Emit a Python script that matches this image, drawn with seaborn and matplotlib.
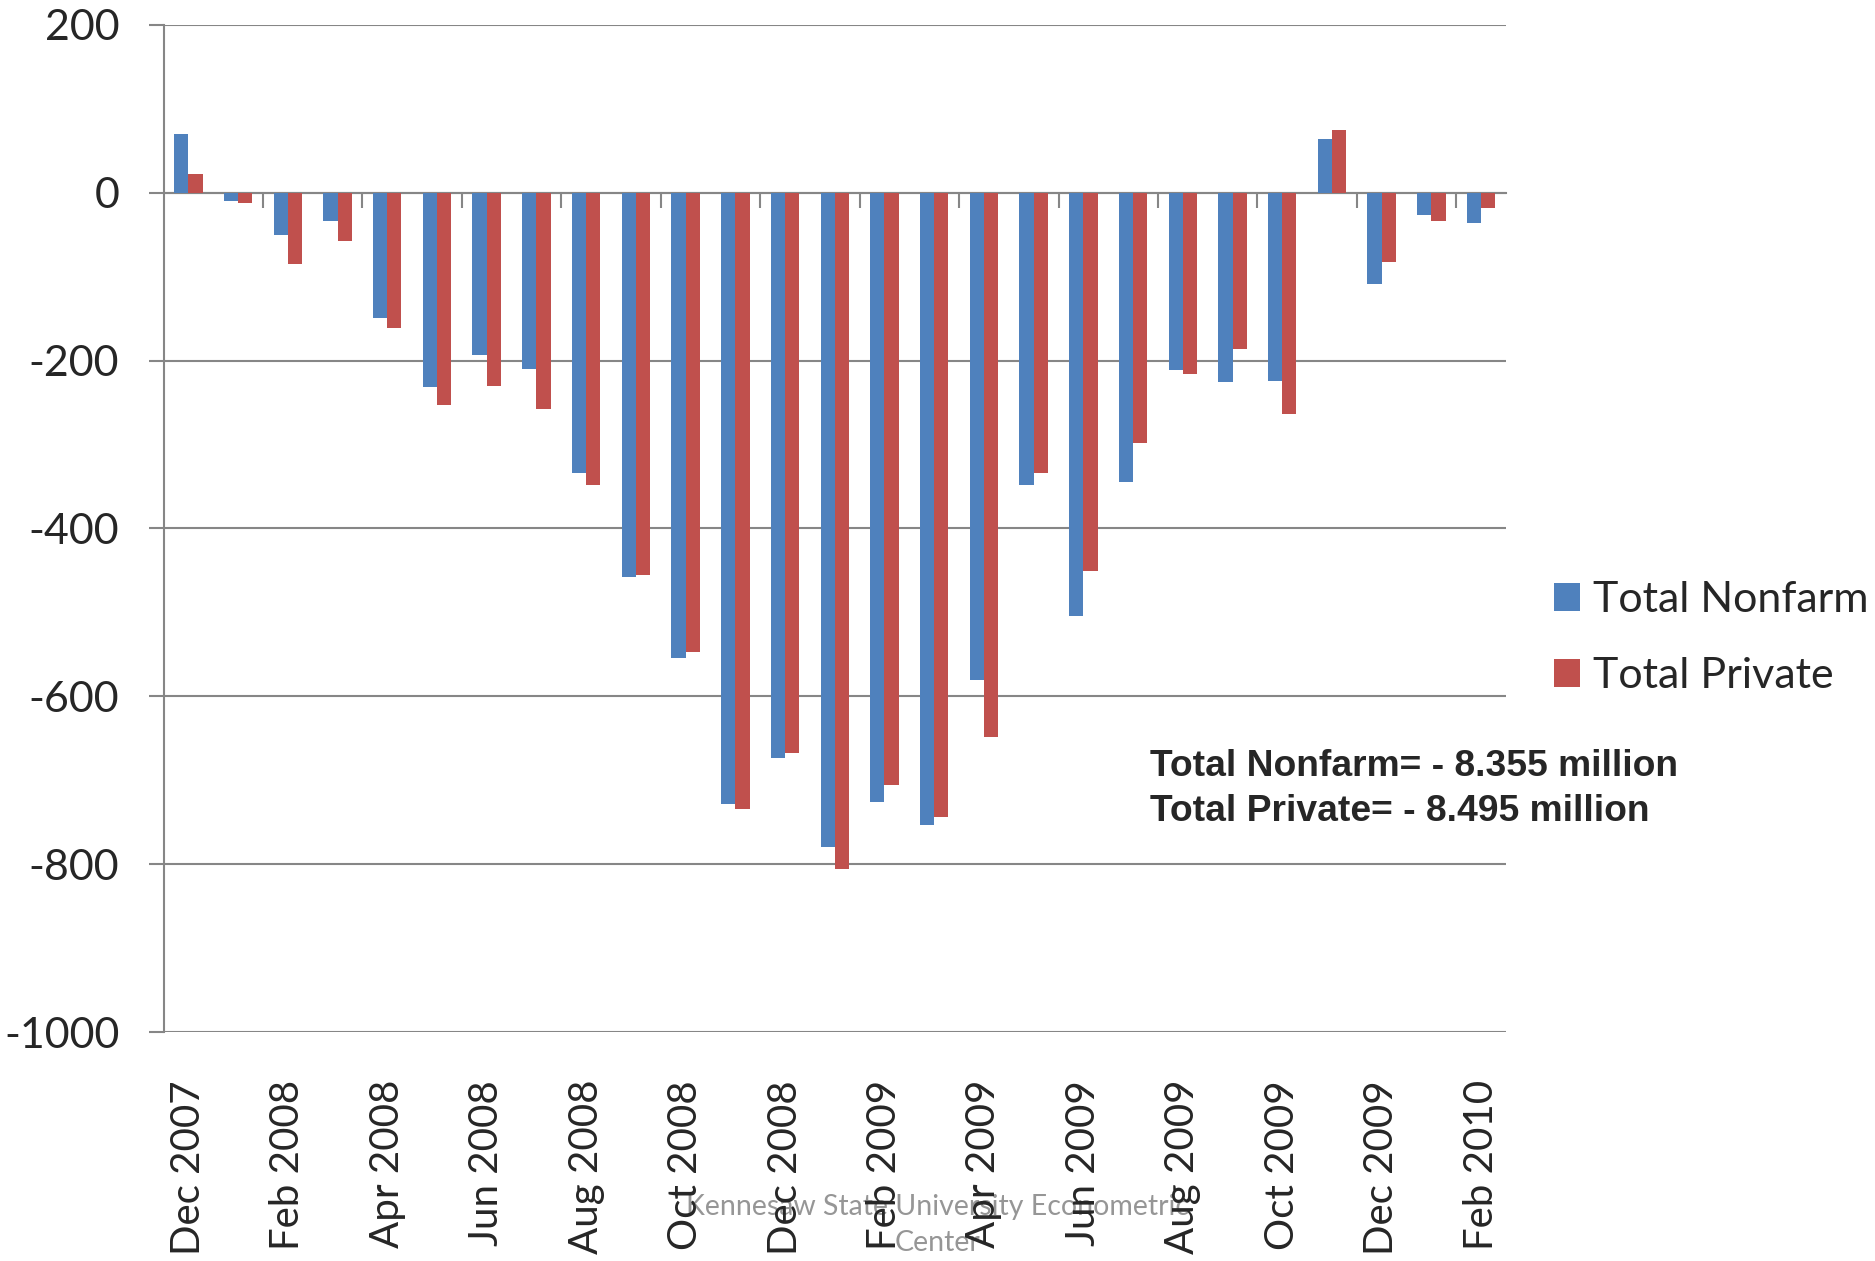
import pandas as pd
import seaborn as sns
import matplotlib.pyplot as plt

# Variation mensuelle de l'emploi (milliers), Dec 2007 - Feb 2010
months = ["Dec 2007", "Jan 2008", "Feb 2008", "Mar 2008", "Apr 2008", "May 2008",
          "Jun 2008", "Jul 2008", "Aug 2008", "Sep 2008", "Oct 2008", "Nov 2008",
          "Dec 2008", "Jan 2009", "Feb 2009", "Mar 2009", "Apr 2009", "May 2009",
          "Jun 2009", "Jul 2009", "Aug 2009", "Sep 2009", "Oct 2009", "Nov 2009",
          "Dec 2009", "Jan 2010", "Feb 2010"]
nonfarm = [70, -10, -50, -33, -149, -231, -193, -210, -334, -458, -554, -728, -673,
           -779, -726, -753, -581, -348, -504, -345, -211, -225, -224, 64, -109, -26, -36]
private = [23, -12, -85, -58, -161, -253, -230, -258, -348, -456, -547, -734, -667,
           -806, -706, -744, -649, -334, -451, -298, -216, -186, -263, 75, -83, -33, -18]
series_names = ["Total Nonfarm", "Total Private"]
yticks = [200, 0, -200, -400, -600, -800, -1000]
note_lines = ["Total Nonfarm= - 8.355 million", "Total Private= - 8.495 million"]

blue, red, grey = "#4F81BD", "#C0504D", "#868686"

df = pd.DataFrame({"month": months, series_names[0]: nonfarm, series_names[1]: private})
df = df.melt(id_vars="month", var_name="series", value_name="change")

sns.set_style("white")
plt.rcParams["font.family"] = ["Lato", "DejaVu Sans"]

fig = plt.figure(figsize=(18.75, 12.61), dpi=100)
ax = fig.add_axes([0.0872, 0.1816, 0.716, 0.7986])

sns.barplot(data=df, x="month", y="change", hue="series", order=months,
            hue_order=series_names, palette=[blue, red], saturation=1, width=0.571,
            linewidth=0, ax=ax)

ax.set_xlim(-0.5, len(months) - 0.5)
ax.set_ylim(-1000, 200)
ax.set_yticks(yticks)
ax.set_yticklabels([str(v) for v in yticks])
ax.set_xticks(range(0, len(months), 2))
ax.set_xticklabels(months[::2], rotation=90)
ax.set_xlabel("")
ax.set_ylabel("")

ax.set_axisbelow(True)
ax.grid(axis="y", color=grey, linewidth=1.5)
ax.grid(axis="x", visible=False)
for s in ["top", "right", "bottom"]:
    ax.spines[s].set_visible(False)
ax.spines["left"].set_color(grey)
ax.spines["left"].set_linewidth(1.5)

ax.tick_params(axis="y", labelsize=31, length=10.8, width=1.5, color=grey, pad=21,
               left=True, direction="out")
ax.tick_params(axis="x", labelsize=29, length=0, pad=34.5)

# petites graduations sur la ligne du zero, toutes les deux categories
sec = ax.secondary_xaxis(0, transform=ax.transData)
sec.set_xticks([k - 0.5 for k in range(2, len(months), 2)])
sec.tick_params(axis="x", length=10.8, width=1.5, color=grey, labelbottom=False,
                direction="out")
sec.spines["bottom"].set_color(grey)
sec.spines["bottom"].set_linewidth(1.5)

handles, labels = ax.get_legend_handles_labels()
ax.legend(handles, labels, loc="center left", bbox_to_anchor=(0.829, 0.494),
          bbox_transform=fig.transFigure, frameon=False, fontsize=31,
          handlelength=0.6, handleheight=0.6, handletextpad=0.3,
          labelspacing=0.88, borderpad=0, borderaxespad=0)

fig.text(0.6135, 0.3921, note_lines[0], family="Liberation Sans", weight="bold",
         fontsize=26.8, va="center", ha="left")
fig.text(0.6135, 0.3561, note_lines[1], family="Liberation Sans", weight="bold",
         fontsize=26.8, va="center", ha="left")

fig.text(0.5, 0.0285, "Kennesaw State University Econometric\nCenter", ha="center",
         va="center", fontsize=20.5, color="#969696", zorder=-1, linespacing=1.45)

fig.savefig("out.png", dpi=100)
